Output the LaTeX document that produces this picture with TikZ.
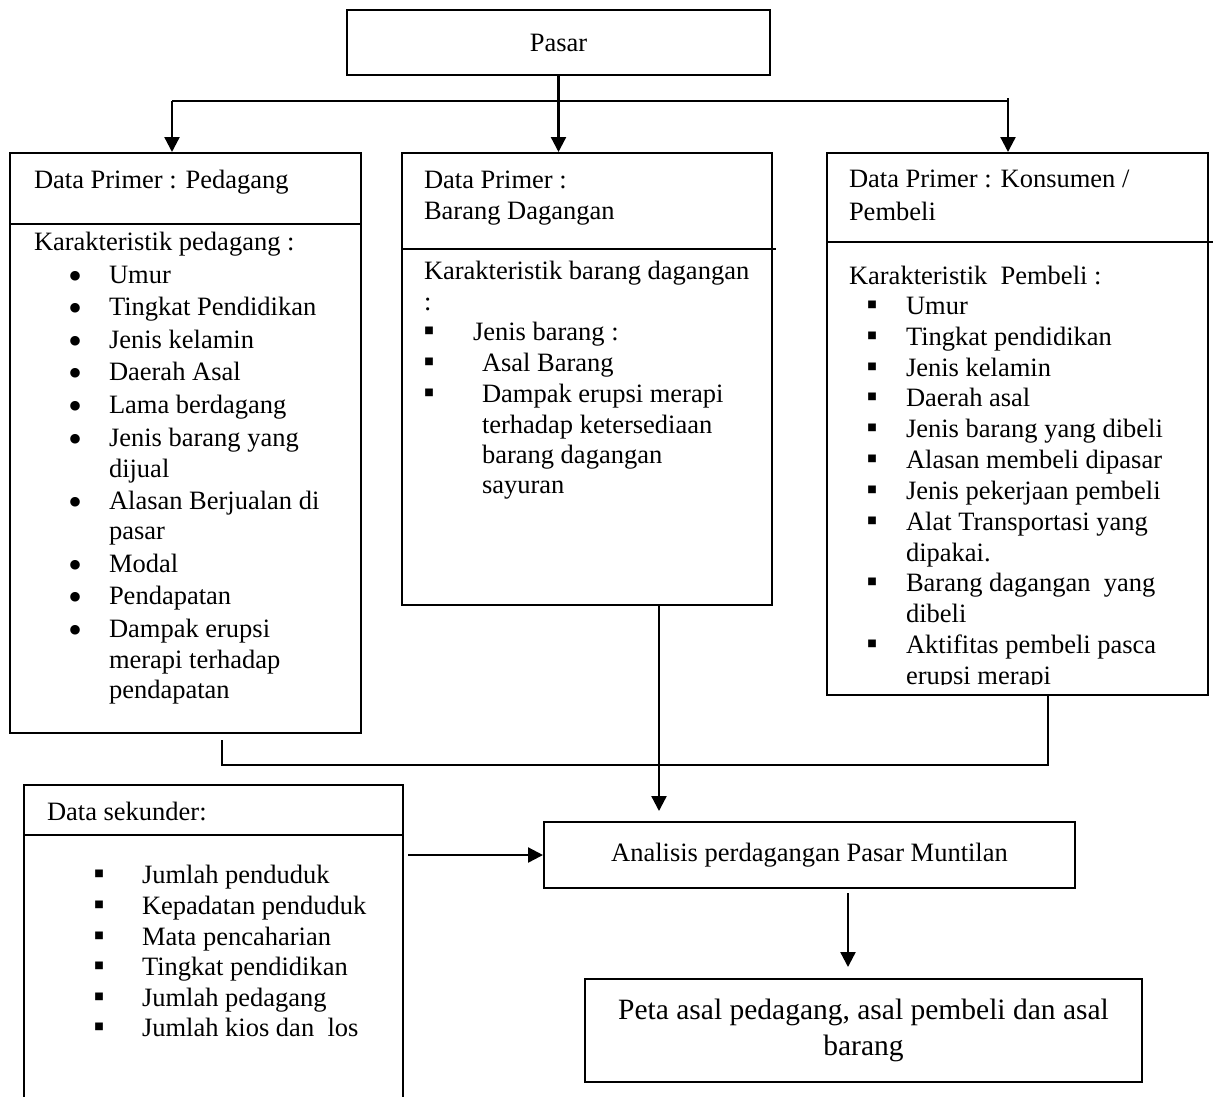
\documentclass[tikz,border=0pt]{standalone}
\usepackage{fontspec}
\setmainfont{Liberation Serif}
\usetikzlibrary{arrows.meta,positioning,calc}
\newcommand{\bodytxt}{\fontsize{26.5}{32}\selectfont}
\newcommand{\bigtxt}{\fontsize{29.5}{36}\selectfont}

\begin{document}
\begin{tikzpicture}[x=1pt, y=-1pt, >={Triangle[length=15pt,width=15pt]}, line width=2pt]
\tikzstyle{box}=[draw=black, line width=2pt, inner sep=0pt, font=\bodytxt]
\tikzstyle{txt}=[anchor=base west, inner sep=0pt, font=\bodytxt]
\tikzstyle{dot}=[anchor=base, inner sep=0pt, yshift=-6.5pt, text height=18pt, text depth=0pt, font=\fontsize{40}{32}\selectfont]
\tikzstyle{sq}=[anchor=base, inner sep=0pt, text height=12pt, text depth=0pt, font=\fontsize{31}{32}\selectfont]
\tikzstyle{line}=[line width=2.3pt]
\tikzstyle{arr}=[line width=2.3pt, ->]
\useasboundingbox (0,0) rectangle (1214,1096);

% boxes
\node[box, minimum width=423pt, minimum height=65pt] (pasar)    at (558.5,42.5) {Pasar};
\node[box, minimum width=351pt, minimum height=580pt] (pedagang) at (185.5,443) {};
\node[box, minimum width=370pt, minimum height=452pt] (barang)   at (587,379) {};
\node[box, minimum width=381pt, minimum height=542pt] (konsumen) at (1017.5,424) {};
\node[box, minimum width=379pt, minimum height=320pt] (sekunder) at (213.5,945) {};
\node[box, minimum width=531pt, minimum height=66pt] (analisis) at (809.5,855) {Analisis perdagangan Pasar Muntilan};
\node[box, minimum width=557pt, minimum height=103pt, align=center, font=\bigtxt] (peta) at (863.5,1030.5)
  {Peta asal pedagang, asal pembeli dan asal\\barang};

% dividers
\draw ([yshift=-72pt]pedagang.north west) -- ([yshift=-72pt]pedagang.north east);
\draw ([yshift=-97pt]barang.north west) -- ([xshift=3pt,yshift=-97pt]barang.north east);
\draw ([yshift=-90pt]konsumen.north west) -- ([xshift=4pt,yshift=-90pt]konsumen.north east);
\draw ([yshift=-51pt]sekunder.north west) -- ([yshift=-51pt]sekunder.north east);

% pedagang
\node[txt] (pedt) at (33,188) {Data Primer : Pedagang};
\node[txt] (pedk) at (33,250) {Karakteristik pedagang :};
\foreach \y/\t [count=\i] in {283/Umur, 315/Tingkat Pendidikan, 348/Jenis kelamin, 380/Daerah Asal,
  413/Lama berdagang, 446/Jenis barang yang, 509/Alasan Berjualan di, 572/Modal, 604/Pendapatan,
  637/Dampak erupsi}
  {\node[dot] (pedb\i) at (76,\y) {•};
   \node[txt] (ped\i) at (108,\y) {\t};}
\foreach \y/\t [count=\i] in {477/dijual, 539/pasar, 668/merapi terhadap, 698/pendapatan}
  \node[txt] (pedc\i) at (108,\y) {\t};

% barang dagangan
\node[txt] (bart1) at (423,188) {Data Primer :};
\node[txt] (bart2) at (423,219) {Barang Dagangan};
\node[txt] (bark1) at (423,279) {Karakteristik barang dagangan};
\node[txt] (bark2) at (423,310) {:};
\foreach \y [count=\i] in {340,371,402}
  \node[sq] (barb\i) at (429,\y) {▪};
\node[txt] (bar1) at (472,340) {Jenis barang :};
\node[txt] (bar2) at (481,371) {Asal Barang};
\node[txt] (bar3) at (481,402) {Dampak erupsi merapi};
\node[txt] (bar4) at (481,433) {terhadap ketersediaan};
\node[txt] (bar5) at (481,463) {barang dagangan};
\node[txt] (bar6) at (481,493) {sayuran};

% konsumen
\node[txt] (kont1) at (848,187) {Data Primer : Konsumen /};
\node[txt] (kont2) at (848,220) {Pembeli};
\begin{scope}
\clip ([yshift=12pt]konsumen.south west) rectangle (konsumen.north east);
\node[txt] (konk) at (848,284) {Karakteristik\ \ Pembeli :};
\foreach \y/\t [count=\i] in {314/Umur, 345/Tingkat pendidikan, 376/Jenis kelamin, 406.5/Daerah asal,
  437/Jenis barang yang dibeli, 468/Alasan membeli dipasar, 499/Jenis pekerjaan pembeli,
  530/Alat Transportasi yang, 591.5/Barang dagangan\ \ yang, 653/Aktifitas pembeli pasca}
  {\node[sq] (konb\i) at (872,\y) {▪};
   \node[txt] (kon\i) at (905,\y) {\t};}
\foreach \y/\t [count=\i] in {561/dipakai., 622/dibeli, 684/erupsi merapi}
  \node[txt] (konc\i) at (905,\y) {\t};
\end{scope}

% data sekunder
\node[txt] (sekt) at (46,820) {Data sekunder:};
\foreach \y/\t [count=\i] in {883/Jumlah penduduk, 914/Kepadatan penduduk, 945/Mata pencaharian,
  975/Tingkat pendidikan, 1006/Jumlah pedagang, 1036/Jumlah kios dan\ \ los}
  {\node[sq] (sekb\i) at (99,\y) {▪};
   \node[txt] (sek\i) at (141,\y) {\t};}

% connectors
\coordinate (busL) at (172,101);
\coordinate (busR) at (1008,101);
\coordinate (joinL) at (222,740);
\coordinate (joinR) at (1048,695);
\coordinate (tap) at (659,605);
\coordinate (drop) at (848,893);
\draw[line] (busL) -- (busR);
\draw[arr] (pasar.south) -- (pasar.south |- barang.north);
\draw[arr] (busL) -- (busL |- pedagang.north);
\draw[arr] ([yshift=3pt]busR) -- (busR |- konsumen.north);
\draw[line] (joinL) -- ++(0,25) -| (joinR);
\draw[arr, shorten >=10pt] (tap) -- (tap |- analisis.north);
\draw[arr] ([xshift=4pt]sekunder.east |- analisis.west) -- (analisis.west);
\draw[arr, shorten >=11pt] (drop) -- (drop |- peta.north);
\end{tikzpicture}
\end{document}
